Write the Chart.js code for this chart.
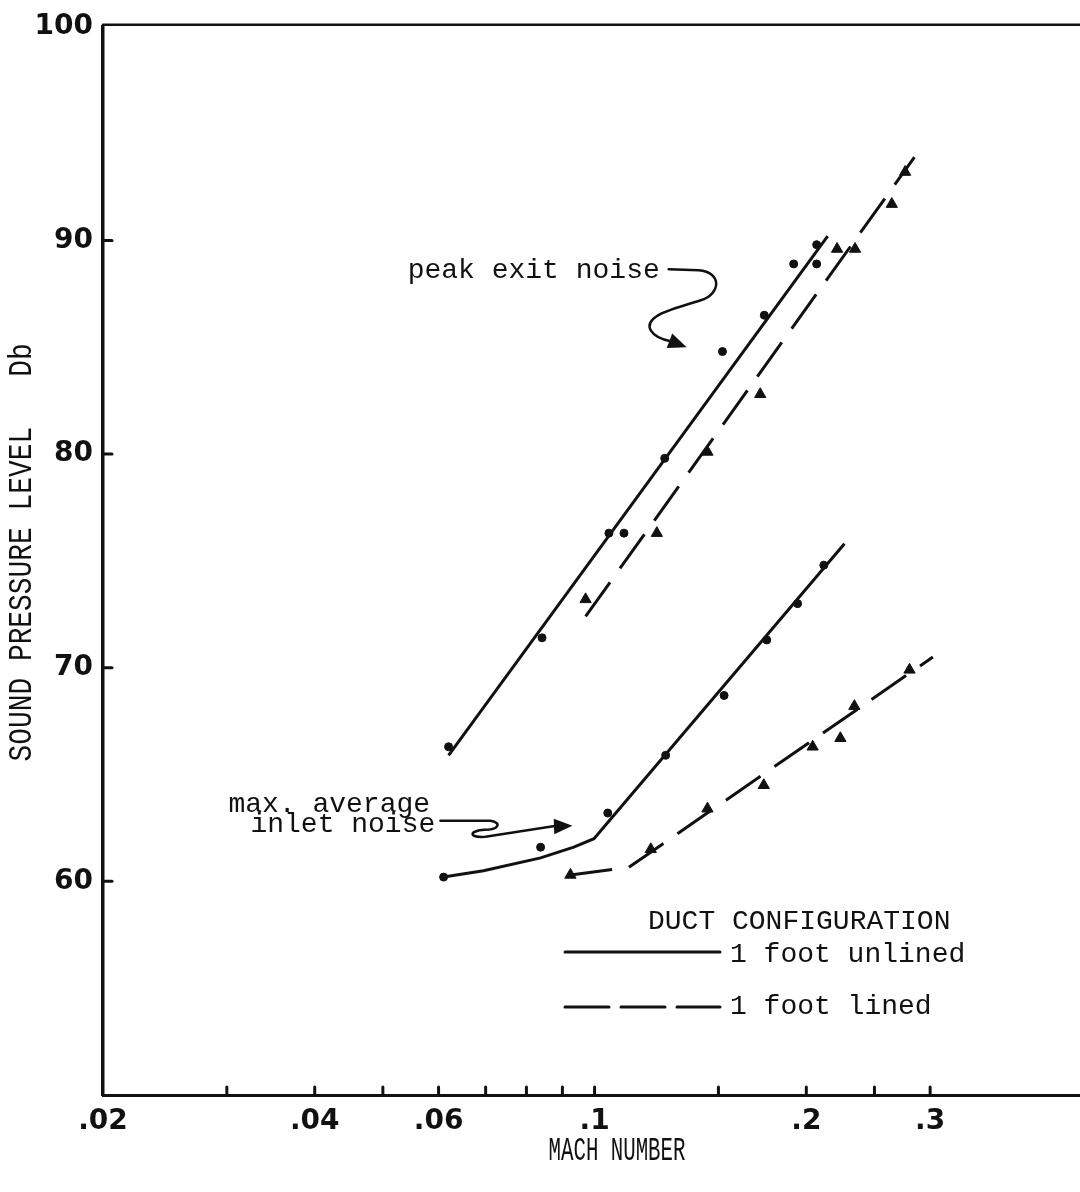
<!DOCTYPE html>
<html>
<head>
<meta charset="utf-8">
<script src="https://cdn.jsdelivr.net/npm/chart.js@4.4.1/dist/chart.umd.min.js"></script>
<style>
  html, body { margin: 0; padding: 0; background: #fff; }
  #wrap { width: 1080px; height: 1192px; }
</style>
</head>
<body>
<div id="wrap"><canvas id="soundChart" width="1080" height="1192"></canvas></div>
<script>
// axis ticks
const xTickValues = [0.02, 0.03, 0.04, 0.05, 0.06, 0.07, 0.08, 0.09, 0.1, 0.15, 0.2, 0.25, 0.3];
const xTickLabels = ['.02', '', '.04', '', '.06', '', '', '', '.1', '', '.2', '', '.3'];
const yTickValues = [60, 70, 80, 90, 100];

// peak exit noise, measured points
const peakUnlinedMach = [0.0620, 0.0842, 0.1048, 0.1101, 0.1258, 0.1520, 0.1743, 0.1919, 0.2069, 0.2069];
const peakUnlinedDb   = [66.3, 71.4, 76.3, 76.3, 79.8, 84.8, 86.5, 88.9, 89.8, 88.9];
const peakLinedMach = [0.0971, 0.1226, 0.1447, 0.1720, 0.2212, 0.2346, 0.2646, 0.2764];
const peakLinedDb   = [73.2, 76.3, 80.1, 82.8, 89.6, 89.6, 91.7, 93.2];

// max. average inlet noise, measured points
const inletUnlinedMach = [0.0610, 0.0838, 0.1044, 0.1262, 0.1528, 0.1757, 0.1944, 0.2118];
const inletUnlinedDb   = [60.2, 61.6, 63.2, 65.9, 68.7, 71.3, 73.0, 74.8];
const inletLinedMach = [0.0924, 0.1202, 0.1447, 0.1740, 0.2042, 0.2236, 0.2341, 0.2804];
const inletLinedDb   = [60.3, 61.5, 63.4, 64.5, 66.3, 66.7, 68.2, 69.9];

// faired curves (vertices)
const peakUnlinedFitMach = [0.0620, 0.2145];
const peakUnlinedFitDb   = [65.9, 90.2];
const peakLinedFitMach = [0.0971, 0.2850];
const peakLinedFitDb   = [72.4, 93.9];
const inletUnlinedFitMach = [0.0610, 0.0695, 0.0838, 0.0934, 0.0998, 0.2266];
const inletUnlinedFitDb   = [60.2, 60.5, 61.1, 61.6, 62.0, 75.8];
const inletLinedFitMach = [0.0924, 0.1118, 0.3027];
const inletLinedFitDb   = [60.3, 60.65, 70.5];

const ink = '#111';
const typeFont = '"Liberation Mono", "DejaVu Sans Mono", monospace';
const dash = [42, 17];

function pts(xs, ys) {
    return xs.map((x, i) => ({ x: x, y: ys[i] }));
}

function pointSet(xs, ys, style) {
    return {
        type: 'scatter',
        data: pts(xs, ys),
        pointStyle: style,
        pointRadius: style === 'triangle' ? 6.5 : 4,
        backgroundColor: ink,
        borderColor: ink,
        borderWidth: 1
    };
}

function fitSet(xs, ys, dashed) {
    return {
        type: 'line',
        data: pts(xs, ys),
        borderColor: ink,
        borderWidth: 3,
        borderDash: dashed ? dash : [],
        pointRadius: 0,
        tension: 0,
        fill: false
    };
}

// draws a filled arrow head at (tx,ty) coming from (fx,fy)
function arrowHead(ctx, fx, fy, tx, ty, len) {
    const a = Math.atan2(ty - fy, tx - fx);
    ctx.beginPath();
    ctx.moveTo(tx, ty);
    ctx.lineTo(tx - len * Math.cos(a - 0.4), ty - len * Math.sin(a - 0.4));
    ctx.lineTo(tx - len * Math.cos(a + 0.4), ty - len * Math.sin(a + 0.4));
    ctx.closePath();
    ctx.fill();
}

const paperPlugin = {
    id: 'paper',
    afterDraw(chart) {
        const ctx = chart.ctx;
        const area = chart.chartArea;
        const xs = chart.scales.x;
        const ys = chart.scales.y;
        ctx.save();
        ctx.strokeStyle = ink;
        ctx.fillStyle = ink;
        ctx.lineCap = 'round';

        // top frame line
        ctx.lineWidth = 2.5;
        ctx.beginPath();
        ctx.moveTo(area.left, area.top - 2);
        ctx.lineTo(area.right, area.top - 2);
        ctx.stroke();

        // inward tick marks
        ctx.lineWidth = 3;
        xTickValues.forEach(v => {
            const px = xs.getPixelForValue(v);
            if (px <= area.left + 2) return;
            ctx.beginPath();
            ctx.moveTo(px, area.bottom);
            ctx.lineTo(px, area.bottom - 8);
            ctx.stroke();
        });
        yTickValues.forEach(v => {
            if (v >= 100) return;
            const py = ys.getPixelForValue(v);
            ctx.beginPath();
            ctx.moveTo(area.left, py);
            ctx.lineTo(area.left + 9, py);
            ctx.stroke();
        });

        // annotation: peak exit noise
        let tx = xs.getPixelForValue(0.1352), ty = ys.getPixelForValue(85.0);
        ctx.font = '28px ' + typeFont;
        ctx.textBaseline = 'middle';
        ctx.textAlign = 'left';
        ctx.fillText('peak exit noise', tx - 279, ty - 77);
        ctx.lineWidth = 2.5;
        ctx.beginPath();
        ctx.moveTo(tx - 18, ty - 78);
        ctx.lineTo(tx + 12, ty - 77);
        ctx.bezierCurveTo(tx + 36, ty - 75, tx + 34, ty - 53, tx + 14, ty - 47);
        ctx.bezierCurveTo(tx - 4, ty - 41, tx - 22, ty - 37, tx - 30, ty - 31);
        ctx.bezierCurveTo(tx - 44, ty - 22, tx - 36, ty - 10, tx - 16, ty - 6);
        ctx.stroke();
        arrowHead(ctx, tx - 24, ty - 9, tx, ty, 20);

        // annotation: max. average inlet noise
        tx = xs.getPixelForValue(0.0930);
        ty = ys.getPixelForValue(62.6);
        ctx.fillText('max. average', tx - 344, ty - 21);
        ctx.fillText('inlet noise', tx - 322, ty - 1);
        ctx.beginPath();
        ctx.moveTo(tx - 132, ty - 5);
        ctx.lineTo(tx - 82, ty - 5);
        ctx.bezierCurveTo(tx - 70, ty - 3, tx - 74, ty + 4, tx - 88, ty + 4);
        ctx.bezierCurveTo(tx - 104, ty + 5, tx - 104, ty + 12, tx - 87, ty + 11);
        ctx.lineTo(tx - 16, ty);
        ctx.stroke();
        arrowHead(ctx, tx - 30, ty + 1, tx, ty, 20);

        // key
        const kx = area.left + 462;
        const ky = area.bottom - 173;
        ctx.fillText('DUCT CONFIGURATION', kx + 83, ky);
        ctx.lineWidth = 3;
        ctx.beginPath();
        ctx.moveTo(kx, ky + 30);
        ctx.lineTo(kx + 155, ky + 30);
        ctx.stroke();
        ctx.fillText('1 foot unlined', kx + 165, ky + 33);
        ctx.setLineDash([44, 12]);
        ctx.beginPath();
        ctx.moveTo(kx, ky + 85);
        ctx.lineTo(kx + 155, ky + 85);
        ctx.stroke();
        ctx.setLineDash([]);
        ctx.fillText('1 foot lined', kx + 165, ky + 85);

        // axis titles, narrow typewriter letters
        ctx.font = '34px ' + typeFont;
        ctx.textAlign = 'center';
        ctx.save();
        ctx.translate(617, area.bottom + 56);
        ctx.scale(0.61, 1);
        ctx.fillText('MACH NUMBER', 0, 0);
        ctx.restore();

        ctx.save();
        ctx.translate(22, ys.getPixelForValue(75.4));
        ctx.rotate(-Math.PI / 2);
        ctx.scale(0.82, 1);
        ctx.fillText('SOUND PRESSURE LEVEL   Db', 0, 0);
        ctx.restore();

        ctx.restore();
    }
};

const tickFont = { family: '"DejaVu Sans", sans-serif', size: 28, weight: 'bold' };

new Chart(document.getElementById('soundChart'), {
    type: 'scatter',
    data: {
        datasets: [
            fitSet(peakUnlinedFitMach, peakUnlinedFitDb, false),
            fitSet(peakLinedFitMach, peakLinedFitDb, true),
            fitSet(inletUnlinedFitMach, inletUnlinedFitDb, false),
            fitSet(inletLinedFitMach, inletLinedFitDb, true),
            pointSet(peakUnlinedMach, peakUnlinedDb, 'circle'),
            pointSet(peakLinedMach, peakLinedDb, 'triangle'),
            pointSet(inletUnlinedMach, inletUnlinedDb, 'circle'),
            pointSet(inletLinedMach, inletLinedDb, 'triangle')
        ]
    },
    options: {
        responsive: false,
        animation: false,
        devicePixelRatio: 1,
        layout: { autoPadding: false, padding: { top: 24, right: 0, left: 0, bottom: 0 } },
        plugins: {
            legend: { display: false },
            tooltip: { enabled: false }
        },
        scales: {
            x: {
                type: 'logarithmic',
                min: 0.02,
                max: 0.49,
                grid: { display: false, drawTicks: false },
                border: { display: true, color: ink, width: 3 },
                afterBuildTicks: s => { s.ticks = xTickValues.map(v => ({ value: v })); },
                afterFit: s => { s.height = 97; s.paddingRight = 0; s.paddingLeft = 0; },
                ticks: {
                    autoSkip: false,
                    maxRotation: 0,
                    padding: 10,
                    color: ink,
                    font: tickFont,
                    callback: (value, index) => xTickLabels[index]
                }
            },
            y: {
                type: 'linear',
                min: 50,
                max: 100,
                grid: { display: false, drawTicks: false },
                border: { display: true, color: ink, width: 3.5 },
                afterBuildTicks: s => { s.ticks = yTickValues.map(v => ({ value: v })); },
                afterFit: s => { s.width = 103; },
                ticks: {
                    padding: 10,
                    color: ink,
                    font: tickFont,
                    callback: v => String(v)
                }
            }
        }
    },
    plugins: [paperPlugin]
});
</script>
</body>
</html>
